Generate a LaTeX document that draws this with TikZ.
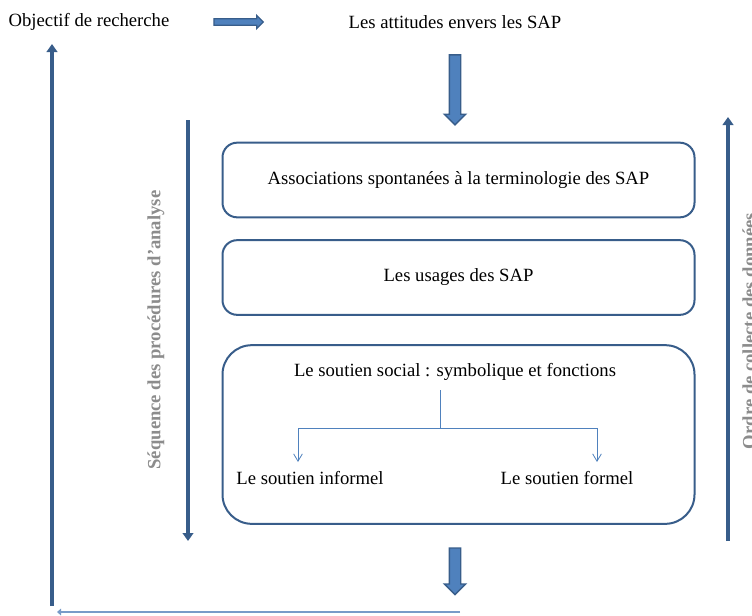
\documentclass[tikz,border=0pt]{standalone}
\usepackage{fontspec}
\setmainfont{Liberation Serif}
\usepackage{xcolor}
\usetikzlibrary{positioning,arrows.meta,shapes.arrows}
\definecolor{darkblue}{RGB}{56,93,138}
\definecolor{midblue}{RGB}{79,129,189}
\definecolor{lightline}{RGB}{120,155,200}
\definecolor{labelgray}{RGB}{140,140,140}

\begin{document}
\begin{tikzpicture}[
    x=0.75pt, y=-0.75pt,
    font=\fontsize{14}{17}\selectfont,
    box/.style={draw=darkblue, rounded corners=11pt, line width=1.5pt,
      minimum width=354pt, align=center},
    blockarr/.style={single arrow, draw=darkblue, fill=midblue,
      line width=1pt, inner xsep=0pt, inner ysep=3.75pt,
      single arrow head extend=3.75pt, single arrow head indent=0pt},
    longarr/.style={line width=3pt, darkblue,
      -{Triangle[width=8pt,length=6pt]}},
    tree/.style={midblue, line width=0.6pt},
    side/.style={rotate=90, font=\fontsize{14}{17}\selectfont\bfseries,
      text=labelgray}
]
\useasboundingbox (0,0) rectangle (752,615);

% top line
\node (obj) at (89,22) {Objectif de recherche};
\node (att) at (455,22) {Les attitudes envers les SAP};
\node[blockarr, minimum height=37pt, inner ysep=1.9pt,
      single arrow head extend=2.5pt] (arrObj) at (237,22) {};

% boxes
\node[box, minimum height=56pt] (assoc) at (458.5,180)
  {Associations spontanées à la terminologie des SAP};
\node[box, minimum height=56pt] (usage) at (458.5,277.5)
  {Les usages des SAP};
\node[box, minimum height=134pt, rounded corners=22pt] (soc) at (458.5,434.5) {};
\node (socT) at (455,372) {Le soutien social : symbolique et fonctions};
\node (inf) at (310,478) {Le soutien informel};
\node (form) at (567,478) {Le soutien formel};

\node[blockarr, minimum height=52.5pt, rotate=-90] (arrTop) at (455,87) {};
\node[blockarr, minimum height=35pt, rotate=-90] (arrBot) at (455,568.5) {};

% tree inside the social box
\coordinate (fork) at (440,428);
\draw[tree] (440,390) -- (fork);
\draw[tree, -{Straight Barb[width=6.5pt,length=5.5pt]}] (fork) -| (298,462);
\draw[tree, -{Straight Barb[width=6.5pt,length=5.5pt]}] (fork) -| (597,462);

% side arrows and labels
\coordinate (seqTop) at (188,120);
\coordinate (seqBot) at (188,541);
\draw[longarr] (seqTop) -- (seqBot);
\node[side] (seq) at (156,330) {Séquence des procédures d’analyse};

\coordinate (ordBot) at (728,541);
\coordinate (ordTop) at (728,117);
\draw[longarr] (ordBot) -- (ordTop);
\node[side] (ord) at (749,331) {Ordre de collecte des données};

% return loop
\coordinate (loopR) at (460,612);
\coordinate (loopL) at (57,612);
\coordinate (loopB) at (52,606);
\coordinate (loopT) at (52,44);
\draw[lightline, line width=1pt, -{Triangle[width=5pt,length=3pt]}] (loopR) -- (loopL);
\draw[longarr] (loopB) -- (loopT);
\end{tikzpicture}
\end{document}
